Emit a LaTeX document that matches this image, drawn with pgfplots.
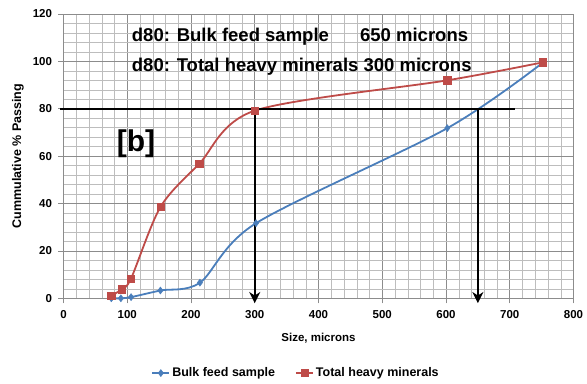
\documentclass[border=0pt]{standalone}
\usepackage{fontspec}
\setmainfont{Liberation Sans}
\usepackage{pgfplots}
\pgfplotsset{compat=1.18}
\usetikzlibrary{arrows.meta,calc}
\definecolor{xlblue}{HTML}{4A7EBB}
\definecolor{xlred}{HTML}{BE4B48}
\definecolor{majgrid}{HTML}{8C8C8C}
\definecolor{mingrid}{HTML}{BDBDBD}
\begin{document}
\begin{tikzpicture}
\begin{axis}[
  name=ax,
  scale only axis,
  width=510pt, height=284.3pt,
  xmin=0, xmax=800, ymin=0, ymax=120,
  xtick={0,100,...,800}, ytick={0,20,...,120},
  minor x tick num=4, minor y tick num=4,
  grid=both,
  major grid style={majgrid, line width=0.6pt},
  minor grid style={mingrid, line width=0.5pt},
  axis line style={majgrid, line width=0.8pt},
  tick style={majgrid, line width=0.8pt},
  major tick length=5pt, minor tick length=0pt,
  tick align=outside,
  xtick pos=bottom, ytick pos=left,
  /pgf/number format/assume math mode=true,
  ticklabel style={font=\fontsize{11.5}{12}\selectfont\bfseries},
  xticklabel style={yshift=-4pt},
  yticklabel style={xshift=-3pt},
  xlabel={Size, microns},
  ylabel={Cummulative \% Passing},
  xlabel style={font=\fontsize{11.5}{12}\selectfont\bfseries, at={(rel axis cs:0.5,0)}, anchor=center, yshift=-40pt},
  ylabel style={font=\fontsize{12.5}{13}\selectfont\bfseries, at={(rel axis cs:0,0.5)}, anchor=center, yshift=45.5pt},
  clip=false,
  legend columns=2,
  legend style={at={(0.456,-0.263)}, anchor=center, draw=none, fill=none,
    font=\fontsize{12.5}{13}\selectfont\bfseries,
    /tikz/every even column/.append style={column sep=18pt}},
  legend cell align=left,
]
\addplot[xlblue, line width=1.8pt, smooth, tension=0.5,
  mark=diamond*, mark size=3.5pt, mark options={fill=xlblue, draw=xlblue, line width=0.5pt}]
  coordinates {(75,0) (90,0) (106,0.5) (152,3.3) (214,6.6) (302,31.7) (602,71.8) (752,99.5)};
\addlegendentry{Bulk feed sample}
\addplot[xlred, line width=1.8pt, smooth, tension=0.5,
  mark=square*, mark size=3.6pt, mark options={fill=xlred, draw=xlred, line width=0.5pt}]
  coordinates {(75,1) (91,3.8) (106,8.4) (152,38.5) (213,56.8) (300,79.2) (602,92) (752,99.6)};
\addlegendentry{Total heavy minerals}
\addplot[black, line width=1.8pt, forget plot] coordinates {(-5,80) (708,80)};
\addplot[black, line width=1.8pt, forget plot, -{Stealth[length=11pt,width=11pt,inset=3.5pt]}] coordinates {(300,80) (300,-2)};
\addplot[black, line width=1.8pt, forget plot, -{Stealth[length=11pt,width=11pt,inset=3.5pt]}] coordinates {(650,80) (650,-2)};
\node[anchor=base west, inner sep=0pt, font=\fontsize{18.5}{20}\selectfont\bfseries] at (axis cs:107,108.3) {d80: Bulk feed sample};
\node[anchor=base west, inner sep=0pt, font=\fontsize{18.5}{20}\selectfont\bfseries] at (axis cs:465,108.3) {650 microns};
\node[anchor=base west, inner sep=0pt, font=\fontsize{18.5}{20}\selectfont\bfseries] at (axis cs:107,95.7) {d80: Total heavy minerals 300 microns};
\node[anchor=center, inner sep=0pt, font=\fontsize{30}{32}\selectfont\bfseries] at (axis cs:113.7,65.3) {[b]};
\end{axis}
\pgfresetboundingbox
\path ($(ax.south west)+(-63.5pt,-84.7pt)$) rectangle ($(ax.north east)+(13.5pt,14pt)$);
\end{tikzpicture}
\end{document}
